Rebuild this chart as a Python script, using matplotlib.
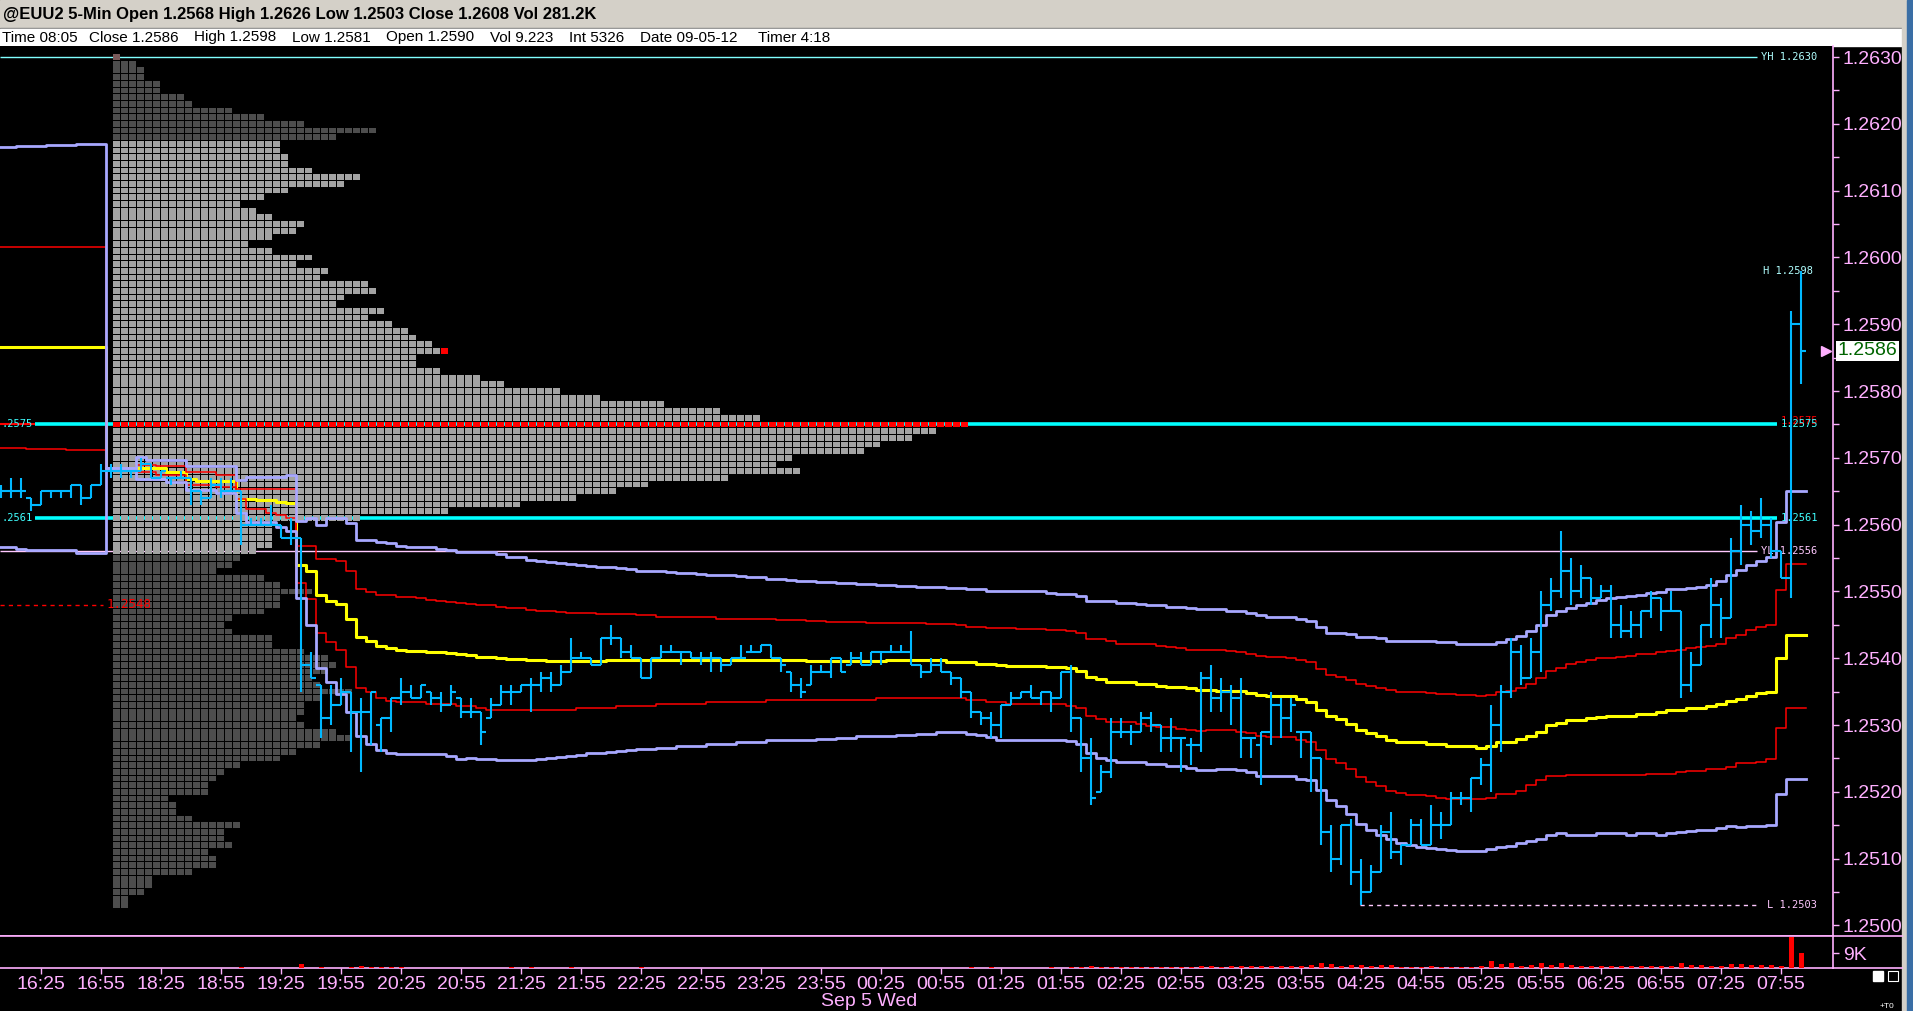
import numpy as np
import matplotlib
matplotlib.use('Agg')
import matplotlib.pyplot as plt
from matplotlib.collections import LineCollection, PolyCollection
from matplotlib.patches import Rectangle

plt.rcParams['font.family'] = ['Liberation Sans', 'DejaVu Sans']

W, H = 1913, 1011
BASE = 1.2500   # prices below are stored in pips above 1.2500
PIP = 0.0001

PINK = '#ffb0ff'
CYAN_BAR = '#00b8ff'
LAV = '#a8a8ff'

# ---------------- 5-min bars (bar 0 = 16:25), pips above 1.2500
bar_first = -4
bar_open = [65, 65, 65, 64, 63, 65, 65, 65, 66, 64,
            66, 68, 68, 68, 68, 69, 67, 67, 67, 67,
            65, 64, 66, 65, 65, 60, 60, 60, 60, 58,
            58, 39, 36, 31, 33, 35, 32, 32, 30, 31,
            34, 35, 34, 35, 34, 33, 34, 32, 32, 31,
            33, 35, 35, 36, 36, 37, 36, 38, 40, 40,
            39, 43, 43, 41, 40, 37, 40, 41, 41, 41,
            40, 40, 40, 39, 40, 41, 41, 42, 40, 38,
            36, 36, 38, 38, 40, 39, 40, 39, 41, 41,
            41, 41, 39, 38, 39, 38, 37, 35, 32, 31,
            30, 33, 34, 35, 34, 35, 34, 38, 31, 25,
            20, 23, 29, 29, 29, 31, 30, 28, 28, 27,
            27, 37, 34, 35, 34, 28, 27, 29, 33, 31,
            29, 29, 25, 14, 10, 15, 8, 5, 8, 14,
            11, 12, 15, 12, 15, 15, 19, 19, 22, 24,
            30, 35, 41, 37, 41, 48, 50, 53, 50, 52,
            49, 50, 45, 44, 45, 47, 49, 47, 47, 36,
            39, 45, 48, 46, 56, 60, 59, 60, 56, 52,
            90]
bar_high = [66, 67, 67, 64, 65, 65, 65, 66, 66, 66,
            69, 69, 69, 68, 70, 69, 68, 67, 68, 67,
            65, 67, 67, 67, 65, 61, 61, 63, 60, 61,
            58, 41, 36, 36, 37, 35, 34, 35, 31, 34,
            37, 36, 36, 35, 35, 36, 34, 34, 32, 34,
            36, 36, 36, 37, 38, 38, 39, 43, 41, 40,
            43, 45, 43, 42, 40, 40, 42, 42, 41, 41,
            41, 41, 40, 40, 42, 42, 42, 42, 40, 38,
            37, 39, 39, 40, 40, 41, 41, 41, 41, 42,
            42, 44, 39, 40, 40, 38, 37, 35, 32, 32,
            33, 35, 35, 36, 35, 35, 38, 39, 31, 28,
            24, 31, 31, 30, 32, 32, 30, 31, 28, 28,
            38, 39, 37, 36, 37, 28, 29, 35, 34, 34,
            29, 29, 25, 15, 15, 16, 10, 9, 15, 17,
            12, 16, 16, 18, 17, 20, 20, 22, 25, 33,
            36, 43, 42, 43, 50, 52, 59, 55, 54, 52,
            51, 51, 48, 47, 47, 50, 49, 50, 47, 41,
            45, 52, 49, 58, 63, 62, 64, 61, 56, 92,
            98]
bar_low = [64, 64, 64, 62, 63, 64, 64, 64, 63, 64,
           66, 67, 67, 67, 68, 67, 67, 66, 67, 63,
           63, 64, 64, 65, 57, 60, 60, 60, 58, 57,
           35, 37, 28, 30, 33, 26, 23, 27, 26, 29,
           33, 34, 34, 33, 32, 33, 31, 31, 27, 31,
           33, 33, 35, 32, 35, 35, 36, 38, 40, 39,
           39, 42, 40, 40, 37, 37, 40, 41, 39, 40,
           39, 38, 38, 39, 40, 41, 41, 40, 38, 35,
           34, 36, 38, 37, 38, 39, 39, 39, 39, 41,
           41, 39, 37, 38, 38, 36, 34, 31, 30, 28,
           28, 33, 34, 34, 33, 32, 34, 29, 23, 18,
           20, 22, 28, 27, 29, 29, 26, 26, 23, 24,
           26, 32, 32, 30, 25, 25, 21, 27, 28, 29,
           25, 20, 12, 8, 9, 6, 3, 5, 8, 10,
           9, 12, 12, 12, 13, 15, 18, 17, 21, 20,
           26, 34, 36, 37, 38, 47, 49, 48, 49, 48,
           49, 43, 43, 43, 43, 46, 44, 47, 34, 35,
           39, 43, 43, 46, 54, 57, 58, 55, 52, 49,
           81]
bar_close = [65, 65, 65, 63, 65, 65, 65, 66, 64, 66,
             68, 68, 68, 68, 69, 67, 68, 67, 67, 65,
             64, 66, 65, 65, 60, 60, 60, 60, 58, 58,
             39, 37, 31, 33, 35, 32, 32, 35, 31, 34,
             35, 34, 36, 34, 33, 35, 32, 32, 29, 33,
             35, 35, 36, 36, 37, 36, 38, 40, 40, 39,
             43, 43, 41, 40, 37, 40, 41, 41, 41, 40,
             40, 40, 39, 40, 40, 41, 42, 40, 39, 36,
             35, 38, 38, 40, 38, 40, 39, 41, 41, 41,
             41, 39, 38, 39, 38, 37, 35, 32, 31, 30,
             33, 34, 35, 34, 35, 34, 38, 31, 25, 19,
             23, 29, 29, 29, 31, 30, 28, 28, 28, 27,
             37, 34, 35, 34, 28, 28, 29, 33, 31, 33,
             29, 25, 14, 10, 15, 8, 5, 8, 14, 11,
             12, 15, 12, 15, 15, 19, 19, 22, 24, 30,
             35, 41, 37, 41, 48, 50, 53, 50, 52, 49,
             50, 45, 44, 45, 47, 49, 47, 47, 36, 39,
             45, 48, 46, 56, 60, 59, 60, 56, 52, 90,
             86]

# volume per bar, thousands
bar_vol = [0, 0, 0, 0, 0, 0, 0, 0, 0, 0,
           0, 0, 0, 0, 0, 0, 0, 0, 0, 0,
           0, 0, 0, 0, 0.6, 0, 0, 0, 0, 0,
           2.2, 0, 0.6, 0, 0, 0.6, 1.0, 0.6, 0.6, 0.6,
           0.6, 0, 0, 0, 0, 0, 0, 0, 0, 0,
           0, 0.6, 0, 0.6, 0, 0, 0, 0.6, 0, 0,
           0, 0, 0, 0, 0.6, 0, 0, 0, 0, 0,
           0, 0, 0, 0, 0, 0, 0, 0, 0, 0,
           0, 0, 0, 0, 0, 0, 0, 0, 0, 0,
           0, 0, 0, 0, 0, 0, 0, 0.6, 0, 0.6,
           0, 0, 0, 0, 0, 0.6, 0, 0.6, 0.6, 1.0,
           0.6, 0.6, 0.6, 0.6, 0.6, 0.6, 0.6, 0.6, 0.6, 0.6,
           1.0, 1.0, 0.6, 1.0, 1.4, 1.0, 1.4, 1.0, 1.4, 1.0,
           1.4, 2.0, 3.3, 2.2, 1.4, 1.6, 1.6, 1.4, 1.8, 1.8,
           0.8, 0.8, 0.8, 1.0, 0.8, 0.8, 0.8, 0.8, 1.0, 4.5,
           2.5, 3.3, 1.4, 1.8, 3.3, 1.8, 3.3, 1.8, 1.4, 1.4,
           1.0, 1.4, 1.0, 1.0, 1.0, 1.0, 1.0, 1.0, 3.3, 1.8,
           1.8, 1.4, 1.2, 2.2, 2.2, 1.8, 1.8, 1.8, 1.2, 18.8,
           9.2]

# ---------------- VWAP bands: bar where a step starts, level in pips
up2_bar = [-4, -2, 1, 4, 7, 10, 11, 15, 20, 21, 25, 26, 27, 28, 29, 31, 32, 34, 35, 36,
           37, 40, 41, 42, 46, 47, 48, 49, 50, 51, 52, 53, 54, 55, 56, 58, 59, 60, 61, 63,
           64, 66, 67, 68, 70, 71, 73, 75, 76, 78, 80, 82, 84, 86, 88, 91, 93, 95, 98, 101,
           102, 104, 105, 107, 108, 110, 111, 113, 115, 116, 119, 120, 121, 122, 123, 124, 126, 127, 128, 129,
           131, 132, 134, 135, 139, 140, 142, 144, 146, 147, 148, 149, 150, 151, 152, 153, 154, 155, 156, 157,
           158, 159, 160, 161, 162, 163, 165, 166, 167, 168, 169, 170, 171, 172, 173, 174, 175]
up2_val = [116.6, 116.7, 116.8, 117.0, 68.4, 70.1, 69.7, 68.8, 66.7, 67.2, 67.5, 60.5, 61.0, 60.0, 61.0, 60.2, 57.7, 57.4, 57.2, 56.8,
           56.6, 56.3, 56.2, 55.9, 55.6, 55.2, 55.1, 54.7, 54.6, 54.4, 54.3, 54.1, 54.0, 53.8, 53.7, 53.5, 53.3, 53.1, 53.0, 52.9,
           52.8, 52.6, 52.5, 52.4, 52.3, 52.1, 51.9, 51.7, 51.6, 51.4, 51.3, 51.1, 50.9, 50.8, 50.7, 50.5, 50.4, 50.1, 50.0, 49.8,
           49.6, 49.3, 48.6, 48.5, 48.3, 48.1, 48.0, 47.7, 47.5, 47.3, 47.1, 47.0, 46.8, 46.4, 46.2, 46.1, 45.8, 45.5, 44.6, 43.8,
           43.6, 43.1, 43.0, 42.6, 42.5, 42.4, 42.2, 42.1, 42.4, 42.8, 43.3, 44.1, 45.0, 46.5, 47.0, 47.5, 47.9, 48.3, 48.7, 49.0,
           49.1, 49.3, 49.5, 49.7, 49.9, 50.4, 50.5, 50.7, 51.0, 51.6, 52.4, 53.2, 54.0, 54.6, 55.1, 60.4, 65.1]

up1_bar = [-4, 7, 10, 12, 15, 18, 20, 21, 22, 26, 28, 30, 31, 32, 33, 34, 36, 38, 39, 40,
           41, 42, 43, 44, 46, 47, 49, 50, 52, 53, 56, 60, 62, 65, 68, 71, 74, 77, 79, 83,
           89, 92, 93, 95, 98, 101, 103, 104, 105, 107, 108, 111, 112, 113, 114, 115, 116, 119, 120, 121,
           122, 123, 125, 126, 127, 128, 129, 130, 131, 132, 133, 134, 135, 136, 137, 139, 140, 142, 144, 145,
           146, 147, 148, 149, 150, 151, 152, 153, 154, 155, 156, 158, 159, 160, 161, 162, 163, 164, 165, 166,
           167, 168, 169, 170, 171, 172, 173, 174, 175]
up1_val = [101.6, 68.4, 68.9, 68.8, 67.9, 67.4, 65.3, 65.4, 65.3, 56.8, 54.8, 54.6, 53.0, 50.4, 49.9, 49.5, 49.2, 49.0, 48.7, 48.6,
           48.4, 48.2, 48.1, 47.9, 47.7, 47.5, 47.2, 47.1, 46.9, 46.7, 46.6, 46.4, 46.2, 46.1, 45.9, 45.8, 45.7, 45.5, 45.4, 45.2,
           45.1, 44.9, 44.7, 44.5, 44.3, 44.2, 44.1, 43.7, 42.9, 42.5, 42.2, 42.1, 41.8, 41.7, 41.5, 41.3, 41.2, 41.1, 40.9, 40.7,
           40.3, 40.2, 40.1, 39.8, 39.4, 38.4, 37.5, 37.2, 36.7, 36.1, 35.9, 35.5, 35.3, 35.0, 34.9, 34.8, 34.6, 34.5, 34.3, 34.5,
           34.9, 35.1, 35.5, 36.2, 37.0, 38.1, 38.5, 39.1, 39.4, 39.7, 40.0, 40.2, 40.4, 40.6, 40.7, 40.9, 41.1, 41.2, 41.5, 41.7,
           41.9, 42.2, 43.0, 43.5, 44.2, 44.6, 45.0, 50.2, 54.1]

vwap_bar = [-4, 7, 13, 15, 16, 20, 22, 24, 25, 26, 27, 28, 29, 30, 31, 32, 33, 34, 35, 36,
            37, 39, 41, 42, 43, 44, 46, 47, 49, 51, 57, 77, 85, 91, 93, 94, 95, 96, 97, 101,
            103, 104, 105, 106, 107, 109, 110, 112, 113, 115, 116, 118, 121, 122, 123, 124, 126, 127, 128, 129,
            130, 131, 132, 133, 134, 135, 136, 137, 139, 141, 142, 144, 145, 146, 148, 149, 150, 151, 152, 153,
            154, 155, 156, 157, 160, 162, 163, 164, 165, 166, 167, 168, 169, 170, 171, 172, 173, 174, 175]
vwap_val = [86.6, 68.4, 67.9, 66.9, 66.6, 63.9, 63.7, 63.4, 63.2, 54.0, 53.0, 49.4, 48.6, 48.1, 45.9, 43.1, 42.5, 41.9, 41.5, 41.2,
            41.1, 40.9, 40.8, 40.7, 40.5, 40.2, 40.1, 39.9, 39.8, 39.6, 39.7, 39.6, 39.7, 39.5, 39.4, 39.2, 39.1, 39.0, 38.8, 38.7,
            38.6, 38.1, 37.2, 36.9, 36.5, 36.4, 36.1, 35.9, 35.7, 35.5, 35.2, 35.1, 34.8, 34.5, 34.4, 34.3, 33.9, 33.4, 32.3, 31.3,
            30.9, 30.1, 29.2, 28.8, 28.3, 27.7, 27.5, 27.4, 27.1, 26.9, 26.8, 26.5, 26.8, 27.4, 27.9, 28.3, 29.0, 30.0, 30.3, 30.7,
            30.8, 31.0, 31.2, 31.4, 31.6, 31.9, 32.2, 32.3, 32.5, 32.6, 32.8, 33.2, 33.6, 33.9, 34.3, 34.8, 35.0, 40.1, 43.4]

lo1_bar = [-4, -1, 3, 7, 10, 12, 15, 18, 20, 21, 23, 24, 25, 26, 27, 28, 29, 30, 31, 32,
           33, 34, 35, 36, 39, 40, 42, 43, 44, 45, 47, 53, 54, 56, 58, 60, 62, 65, 67, 70,
           73, 80, 84, 87, 92, 93, 94, 95, 96, 97, 101, 103, 104, 105, 106, 107, 109, 110, 111, 112,
           114, 115, 116, 117, 120, 121, 122, 123, 126, 127, 128, 129, 130, 131, 132, 133, 134, 135, 136, 137,
           139, 140, 141, 145, 146, 148, 149, 150, 151, 153, 161, 164, 165, 167, 169, 170, 172, 173, 174, 175]
lo1_val = [71.4, 71.3, 71.2, 68.4, 67.8, 67.5, 66.0, 65.7, 63.8, 62.3, 61.8, 61.5, 61.0, 51.3, 48.8, 43.8, 42.4, 41.3, 38.7, 35.6,
           34.9, 34.1, 33.6, 33.4, 33.2, 33.1, 32.9, 32.8, 32.5, 32.3, 32.2, 32.3, 32.5, 32.6, 32.8, 32.9, 33.1, 33.2, 33.4, 33.5,
           33.7, 33.8, 34.0, 34.1, 34.0, 33.8, 33.7, 33.5, 33.4, 33.2, 33.1, 32.9, 32.5, 31.3, 30.9, 30.5, 30.4, 30.1, 29.9, 29.7,
           29.4, 29.2, 29.1, 29.2, 29.0, 28.8, 28.4, 28.2, 27.8, 27.4, 26.3, 24.9, 24.3, 23.4, 22.2, 21.4, 20.8, 20.1, 19.8, 19.5,
           19.3, 19.1, 18.9, 19.1, 19.6, 20.1, 21.0, 21.8, 22.3, 22.5, 22.6, 22.9, 23.1, 23.4, 23.7, 24.3, 24.5, 24.9, 29.6, 32.5]

lo2_bar = [-4, -2, -1, 4, 7, 10, 13, 15, 18, 20, 21, 24, 25, 26, 27, 28, 29, 30, 31, 32,
           33, 34, 35, 36, 41, 42, 43, 44, 46, 48, 49, 50, 51, 52, 53, 54, 55, 57, 58, 59,
           60, 62, 63, 64, 66, 67, 68, 70, 71, 73, 74, 78, 80, 82, 84, 86, 88, 90, 93, 94,
           95, 96, 103, 104, 105, 106, 107, 108, 109, 111, 113, 114, 115, 116, 118, 120, 121, 122, 123, 126,
           127, 128, 129, 130, 131, 132, 133, 134, 135, 136, 137, 138, 139, 140, 141, 142, 145, 146, 147, 148,
           149, 150, 151, 152, 153, 156, 159, 160, 162, 163, 164, 165, 166, 168, 169, 170, 171, 173, 174, 175]
lo2_val = [56.6, 56.4, 56.2, 55.8, 68.4, 66.9, 66.4, 65.2, 64.7, 61.8, 60.4, 59.6, 59.1, 49.0, 45.0, 38.6, 36.4, 34.7, 31.9, 28.4,
           27.2, 26.2, 25.8, 25.6, 25.4, 24.9, 25.1, 24.9, 24.7, 24.8, 24.7, 24.9, 25.0, 25.2, 25.4, 25.5, 25.8, 25.9, 26.1, 26.3,
           26.4, 26.5, 26.6, 26.8, 26.9, 27.1, 27.2, 27.4, 27.5, 27.7, 27.8, 27.9, 28.1, 28.3, 28.4, 28.5, 28.7, 28.9, 28.7, 28.5,
           28.2, 27.8, 27.6, 27.1, 25.8, 25.1, 24.8, 24.5, 24.4, 24.2, 23.9, 23.8, 23.5, 23.3, 23.4, 23.2, 22.9, 22.4, 22.3, 21.9,
           21.7, 20.2, 18.7, 17.8, 16.7, 15.2, 14.3, 13.5, 12.9, 12.4, 12.1, 11.8, 11.6, 11.4, 11.3, 11.2, 11.5, 11.8, 11.9, 12.3,
           12.7, 13.0, 13.5, 13.8, 13.6, 13.8, 13.6, 13.8, 13.6, 13.9, 14.0, 14.2, 14.3, 14.6, 14.9, 14.8, 14.9, 15.1, 19.6, 21.9]

# ---------------- market profile: cells per row from 1.2630 down to 1.2503
profile_top = 1.2630
profile_counts = [1, 3, 4, 4, 6, 6, 9, 10, 15, 19,
                  24, 33, 28, 21, 21, 22, 22, 25, 31, 29,
                  22, 19, 16, 18, 20, 24, 23, 20, 17, 20,
                  25, 23, 27, 26, 32, 33, 29, 28, 34, 32,
                  35, 37, 38, 40, 41, 38, 38, 41, 46, 49,
                  56, 61, 69, 76, 81, 107, 103, 100, 96, 94,
                  85, 83, 86, 77, 67, 63, 58, 51, 42, 31,
                  20, 20, 20, 20, 18, 16, 15, 13, 19, 21,
                  25, 21, 21, 19, 15, 14, 15, 20, 20, 24,
                  27, 28, 27, 25, 26, 30, 26, 24, 24, 23,
                  24, 28, 30, 26, 23, 21, 16, 14, 13, 12,
                  12, 7, 8, 8, 10, 16, 14, 14, 15, 12,
                  13, 13, 10, 5, 5, 4, 2, 2]
profile_poc = 1.2575
profile_light = (1.2556, 1.2617)   # value-area rows drawn light grey
profile_red_tail = 1.2586          # row with one red cell at its end

# ---------------- reference levels
yh, yl, hi_now, lo_day = 1.2630, 1.2556, 1.2598, 1.2503
cyan_levels = [1.2575, 1.2561]
red_dash_level = 1.2548

time_labels = ['16:25', '16:55', '18:25', '18:55', '19:25', '19:55', '20:25', '20:55',
               '21:25', '21:55', '22:25', '22:55', '23:25', '23:55', '00:25', '00:55',
               '01:25', '01:55', '02:25', '02:55', '03:25', '03:55', '04:25', '04:55',
               '05:25', '05:55', '06:25', '06:55', '07:25', '07:55']
time_pos = list(range(0, 6 * len(time_labels), 6))

title = '@EUU2 5-Min Open 1.2568 High 1.2626 Low 1.2503 Close 1.2608 Vol 281.2K'
info_items = ['Time 08:05', 'Close 1.2586', 'High 1.2598', 'Low 1.2581', 'Open 1.2590',
              'Vol 9.223', 'Int 5326', 'Date 09-05-12', 'Timer 4:18']
info_x = [2, 89, 194, 292, 386, 490, 569, 640, 758]
last_price = 1.2586

# ---------------- figure
fig = plt.figure(figsize=(W / 100, H / 100), dpi=100)
fig.patch.set_facecolor('black')


def px_axes(x0, y0, x1, y1):
    return fig.add_axes([x0 / W, 1 - y1 / H, (x1 - x0) / W, (y1 - y0) / H])


bg = px_axes(0, 0, W, H)
bg.set_xlim(0, W)
bg.set_ylim(H, 0)
bg.axis('off')
bg.set_zorder(0)
bg.add_patch(Rectangle((0, 0), 1902, 28, color='#d4d0c8'))
bg.add_patch(Rectangle((0, 27.5), 1902, 1.5, color='#808080'))
bg.add_patch(Rectangle((0, 29), 1902, 16.5, color='white'))
bg.add_patch(Rectangle((1902, 0), 5, H, color='#d4d0c8'))
bg.add_patch(Rectangle((1907, 0), 6, H, color='#3a6ea5'))
bg.plot([1833, 1902], [936, 936], color=PINK, lw=1.2)
bg.plot([1833, 1902], [968, 968], color=PINK, lw=1.2)
bg.add_patch(Rectangle((1873, 971), 10, 10, facecolor='white', edgecolor='white'))
bg.add_patch(Rectangle((1888, 971), 10, 10, facecolor='none', edgecolor='white', lw=0.8))
bg.text(1880, 1006, '+T0', color='white', fontsize=6, va='center')
bg.text(3, 14.5, title, fontsize=12, fontweight='bold', color='black', va='center')
for xi, s in zip(info_x, info_items):
    bg.text(xi, 37.5, s, fontsize=11, color='black', va='center')
bg.text(869, 1002, 'Sep 5 Wed', fontsize=14, color=PINK, ha='center', va='center')

XL = (-4.1, 179.2)
ax = px_axes(0, 46, 1833, 936)
ax.set_zorder(2)
ax.set_facecolor('black')
ax.set_xlim(*XL)
ax.set_ylim(1.2630 - (936 - 57) / 66800, 1.2630 + 11 / 66800)

vol = px_axes(0, 936, 1833, 968)
vol.set_zorder(2)
vol.set_facecolor('black')
vol.set_xlim(*XL)
vol.set_ylim(0, 19.2)

mono = dict(family='DejaVu Sans Mono', fontsize=7.5)

# horizontal reference lines
ax.hlines(yh, XL[0], 171.6, color='#80ffff', lw=1, zorder=1)
ax.text(172.0, yh, 'YH 1.2630', color='#b0ffff', va='center', **mono)
ax.hlines(yl, XL[0], 171.6, color='#ffc8ff', lw=1, zorder=1)
ax.text(172.0, yl, 'YL 1.2556', color='#ffc8ff', va='center', **mono)
ax.text(172.2, hi_now, 'H 1.2598', color='#b0ffff', va='center', **mono)
ax.hlines(lo_day, 131.9, 171.6, color='#ffc8ff', lw=1, linestyles=(0, (3, 3)), zorder=1)
ax.text(172.6, lo_day, 'L 1.2503', color='#ffc8ff', va='center', **mono)
ax.hlines(profile_poc, XL[0], 173.6, color='#ff0000', lw=1.5, zorder=1)
ax.text(174.0, profile_poc + 0.00005, '1.2575', color='#ff0000', va='center', **mono)
for lv in cyan_levels:
    ax.hlines(lv, -0.6, 173.6, color='#00ffff', lw=2.6, zorder=1)
    ax.text(174.0, lv, '%.4f' % lv, color='#40ffff', va='center', **mono)
    ax.text(-4.0, lv, ('%.4f' % lv)[1:], color='#40ffff', va='center', **mono)
ax.hlines(red_dash_level, XL[0], 6.2, color='#ff0000', lw=1, linestyles=(0, (3, 3)), zorder=1)
ax.text(6.6, red_dash_level, '%.4f' % red_dash_level, color='#ff0000', va='center',
        family='DejaVu Sans Mono', fontsize=9)

# market profile cells
cell_x0, cell_pitch, cell_w = 7.2, 0.8, 0.7
verts, cols = [], []
for k, n in enumerate(profile_counts):
    p = round(profile_top - k * 0.0001, 4)
    if abs(p - profile_poc) < 1e-6:
        base_col = '#ff0000'
    elif profile_light[0] <= p <= profile_light[1]:
        base_col = '#a3a3a3'
    else:
        base_col = '#4d4d4d'
    if k == 0:
        base_col = '#7a5a5a'
    extra = 1 if abs(p - profile_red_tail) < 1e-6 else 0
    for j in range(n + extra):
        x0 = cell_x0 + j * cell_pitch
        y0, y1 = p - 0.43 * PIP, p + 0.43 * PIP
        verts.append([(x0, y0), (x0 + cell_w, y0), (x0 + cell_w, y1), (x0, y1)])
        cols.append('#ff0000' if j >= n else base_col)
ax.add_collection(PolyCollection(verts, facecolors=cols, edgecolors='none', zorder=2))


# VWAP and deviation bands
def band(bars, vals, color, lw):
    xs = np.append(np.array(bars) - 0.5, 176.5)
    ys = BASE + PIP * np.append(vals, vals[-1])
    ax.plot(xs, ys, drawstyle='steps-post', color=color, lw=lw, zorder=3)


band(vwap_bar, vwap_val, '#ffff00', 2.2)
band(up1_bar, up1_val, '#ff0000', 1.1)
band(lo1_bar, lo1_val, '#ff0000', 1.1)
band(up2_bar, up2_val, LAV, 2.0)
band(lo2_bar, lo2_val, LAV, 2.0)

# OHLC bars
xb = np.arange(bar_first, bar_first + len(bar_open))
o = BASE + PIP * np.array(bar_open)
h = BASE + PIP * np.array(bar_high)
l = BASE + PIP * np.array(bar_low)
c = BASE + PIP * np.array(bar_close)
segs = []
for xi, oi, hi, li, ci in zip(xb, o, h, l, c):
    segs.append([(xi, li), (xi, hi)])
    segs.append([(xi - 0.5, oi), (xi, oi)])
    segs.append([(xi, ci), (xi + 0.5, ci)])
ax.add_collection(LineCollection(segs, colors=CYAN_BAR, linewidths=1.5, zorder=4,
                                 capstyle='butt'))

# right price scale
ax.yaxis.tick_right()
ax.set_yticks(np.round(np.arange(1.2500, 1.26305, 0.001), 4))
ax.set_yticks(np.round(np.arange(1.2505, 1.2630, 0.001), 4), minor=True)
ax.yaxis.set_major_formatter(matplotlib.ticker.FormatStrFormatter('%.4f'))
ax.tick_params(axis='y', which='both', colors=PINK, length=4, width=1, labelsize=14, pad=3)
ax.tick_params(axis='x', which='both', bottom=False, labelbottom=False)
for s in ['top', 'left']:
    ax.spines[s].set_visible(False)
ax.spines['right'].set_color(PINK)
ax.spines['right'].set_linewidth(1.2)
ax.spines['bottom'].set_color(PINK)
ax.spines['bottom'].set_linewidth(1.2)

ax.plot([178.5], [last_price], marker='>', color=PINK, ms=7, clip_on=False, zorder=5)
ax.text(1.0025, last_price, '%.4f' % last_price, transform=ax.get_yaxis_transform(),
        color='#006400', fontsize=14, va='center', ha='left',
        bbox=dict(facecolor='white', edgecolor='none', pad=1.0))

# volume
vol.bar(xb, bar_vol, width=0.5, color='#ff0000', zorder=3)
vol.yaxis.tick_right()
vol.set_yticks([9])
vol.set_yticklabels(['9K'])
vol.tick_params(axis='y', colors=PINK, length=4, width=1, labelsize=14, pad=3)
vol.set_xticks(time_pos)
vol.set_xticklabels(time_labels)
vol.tick_params(axis='x', colors=PINK, length=4, width=1, labelsize=14, pad=2)
vol.spines['left'].set_visible(False)
for s in ['top', 'bottom', 'right']:
    vol.spines[s].set_color(PINK)
    vol.spines[s].set_linewidth(1.2)

fig.savefig('out.png', dpi=100, facecolor=fig.get_facecolor())
